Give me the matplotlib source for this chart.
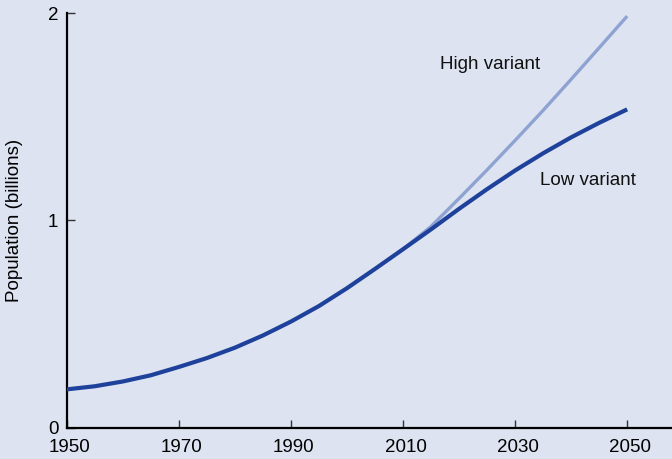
import matplotlib
matplotlib.use("Agg")
import matplotlib.pyplot as plt
import matplotlib.transforms as mtransforms

plt.rcParams['font.family'] = ['Liberation Sans', 'DejaVu Sans']

# values (billions)
years = [1950, 1955, 1960, 1965, 1970, 1975, 1980, 1985, 1990, 1995,
         2000, 2005, 2010, 2015, 2020, 2025, 2030, 2035, 2040, 2045, 2050]
low_variant = [0.184, 0.199, 0.222, 0.252, 0.292, 0.335, 0.385, 0.444, 0.511, 0.586,
               0.672, 0.765, 0.860, 0.956, 1.055, 1.150, 1.240, 1.323, 1.400, 1.470, 1.535]
high_years = [2010, 2015, 2020, 2025, 2030, 2035, 2040, 2045, 2050]
high_variant = [0.860, 0.970, 1.105, 1.243, 1.385, 1.530, 1.680, 1.832, 1.985]

x_ticks = [1950, 1970, 1990, 2010, 2030, 2050]
y_ticks = [0, 1, 2]

bg = '#dde3f0'
fig = plt.figure(figsize=(6.72, 4.59), dpi=100, facecolor=bg)
ax = fig.add_axes([66.7 / 672, (459 - 427.5) / 459, (672 - 66.7) / 672, (427.5 - 13) / 459])
ax.set_facecolor(bg)

ax.plot(high_years, high_variant, color='#8fa3d2', lw=2.4, solid_capstyle='butt',
        solid_joinstyle='round', zorder=2)
ax.plot(years, low_variant, color='#1e419b', lw=3.0, solid_capstyle='butt',
        solid_joinstyle='round', zorder=3)

ax.text(2016.6, 1.75, 'High variant', fontsize=13.5, ha='left', va='center', color='#111111')
ax.text(2034.5, 1.194, 'Low variant', fontsize=13.5, ha='left', va='center', color='#111111')

ax.set_xlim(1950, 2058)
ax.set_ylim(0, 2)
ax.set_xticks(x_ticks)
ax.set_yticks(y_ticks)
ax.set_ylabel('Population (billions)', fontsize=13.5, labelpad=18)

for side in ['top', 'right']:
    ax.spines[side].set_visible(False)
for side in ['left', 'bottom']:
    ax.spines[side].set_linewidth(1.6)
    ax.spines[side].set_color('black')

ax.tick_params(direction='in', length=6, width=1, color='#333333', labelsize=13.5)
ax.tick_params(axis='x', pad=8.5)
ax.tick_params(axis='y', pad=6)

# labels in the original sit a little right of their ticks
offset = mtransforms.ScaledTranslation(3 / 100, 0, fig.dpi_scale_trans)
for lbl in ax.get_xticklabels():
    lbl.set_transform(lbl.get_transform() + offset)

fig.savefig('out.png', dpi=100, facecolor=bg)
